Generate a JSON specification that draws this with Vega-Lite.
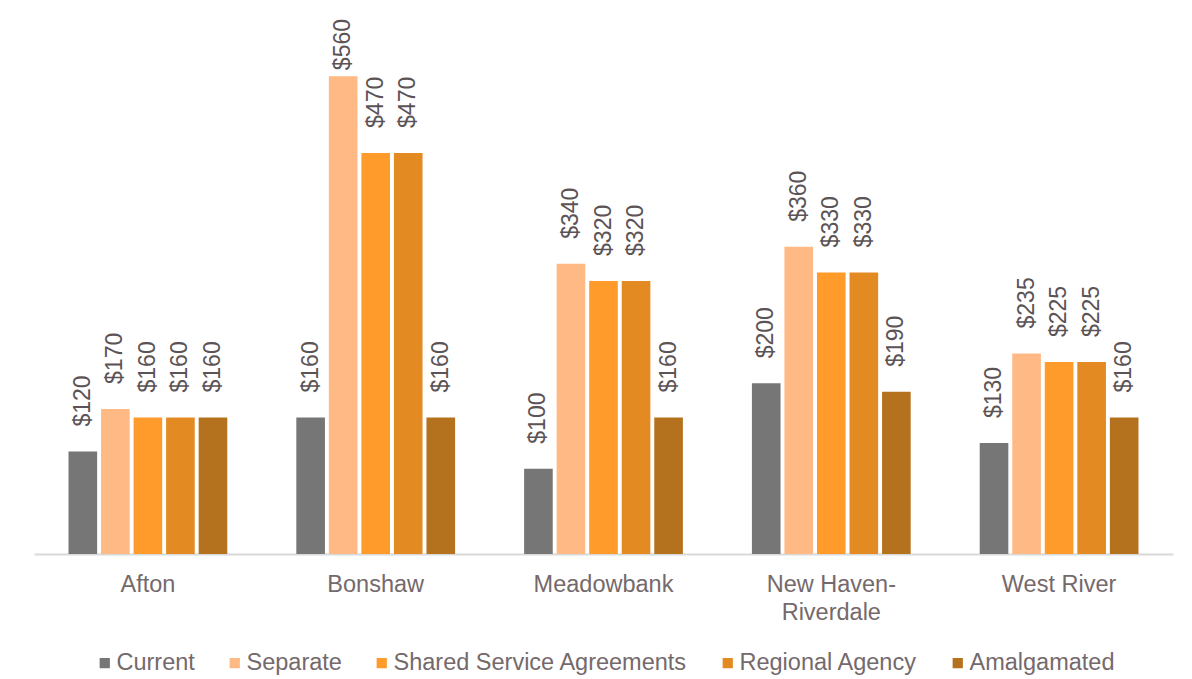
{
  "$schema": "https://vega.github.io/schema/vega-lite/v6.json",
  "autosize": "none",
  "width": 1139,
  "height": 512,
  "padding": {"left": 34, "top": 42, "right": 19, "bottom": 125},
  "background": "white",
  "config": {"view": {"stroke": null}, "font": "Liberation Sans"},
  "data": {"values": [
    {"area": "Afton", "option": "Current", "cost": 120},
    {"area": "Afton", "option": "Separate", "cost": 170},
    {"area": "Afton", "option": "Shared Service Agreements", "cost": 160},
    {"area": "Afton", "option": "Regional Agency", "cost": 160},
    {"area": "Afton", "option": "Amalgamated", "cost": 160},
    {"area": "Bonshaw", "option": "Current", "cost": 160},
    {"area": "Bonshaw", "option": "Separate", "cost": 560},
    {"area": "Bonshaw", "option": "Shared Service Agreements", "cost": 470},
    {"area": "Bonshaw", "option": "Regional Agency", "cost": 470},
    {"area": "Bonshaw", "option": "Amalgamated", "cost": 160},
    {"area": "Meadowbank", "option": "Current", "cost": 100},
    {"area": "Meadowbank", "option": "Separate", "cost": 340},
    {"area": "Meadowbank", "option": "Shared Service Agreements", "cost": 320},
    {"area": "Meadowbank", "option": "Regional Agency", "cost": 320},
    {"area": "Meadowbank", "option": "Amalgamated", "cost": 160},
    {"area": "New Haven-Riverdale", "option": "Current", "cost": 200},
    {"area": "New Haven-Riverdale", "option": "Separate", "cost": 360},
    {"area": "New Haven-Riverdale", "option": "Shared Service Agreements", "cost": 330},
    {"area": "New Haven-Riverdale", "option": "Regional Agency", "cost": 330},
    {"area": "New Haven-Riverdale", "option": "Amalgamated", "cost": 190},
    {"area": "West River", "option": "Current", "cost": 130},
    {"area": "West River", "option": "Separate", "cost": 235},
    {"area": "West River", "option": "Shared Service Agreements", "cost": 225},
    {"area": "West River", "option": "Regional Agency", "cost": 225},
    {"area": "West River", "option": "Amalgamated", "cost": 160}
  ]},
  "encoding": {
    "x": {
      "field": "area", "type": "nominal", "sort": null,
      "scale": {"paddingInner": 0.303, "paddingOuter": 0.1515},
      "axis": {
        "title": null, "ticks": false, "domainColor": "#d9d9d9", "domainWidth": 2,
        "labelAngle": 0, "labelFontSize": 23.5, "labelColor": "#74696b", "labelPadding": 18,
        "labelLineHeight": 28,
        "labelExpr": "datum.label == 'New Haven-Riverdale' ? ['New Haven-', 'Riverdale'] : datum.label"
      }
    },
    "xOffset": {
      "field": "option", "type": "nominal", "sort": null,
      "scale": {"paddingInner": 0.12, "paddingOuter": 0}
    },
    "y": {
      "field": "cost", "type": "quantitative",
      "scale": {"domain": [0, 600], "nice": false},
      "axis": null
    }
  },
  "layer": [
    {
      "mark": {"type": "bar"},
      "encoding": {
        "color": {
          "field": "option", "type": "nominal", "sort": null,
          "scale": {
            "domain": ["Current", "Separate", "Shared Service Agreements", "Regional Agency", "Amalgamated"],
            "range": ["#767676", "#ffb985", "#ff9b2b", "#e38a22", "#b5721e"]
          },
          "legend": {
            "title": null, "orient": "none", "direction": "horizontal",
            "legendX": 59, "legendY": 609, "padding": 0,
            "symbolType": "square", "symbolSize": 105, "symbolStrokeWidth": 0,
            "labelFontSize": 23.5, "labelColor": "#74696b", "labelOffset": 0,
            "labelLimit": 500, "columnPadding": 28
          }
        }
      }
    },
    {
      "transform": [{"filter": "datum.cost < 500"}],
      "mark": {"type": "text", "angle": 270, "align": "left", "baseline": "middle", "dx": 25, "fontSize": 23, "color": "#5b5355"},
      "encoding": {
        "text": {"field": "cost", "type": "quantitative", "format": "$,.0f"}
      }
    },
    {
      "transform": [{"filter": "datum.cost >= 500"}],
      "mark": {"type": "text", "angle": 270, "align": "left", "baseline": "middle", "dx": 6, "fontSize": 23, "color": "#5b5355"},
      "encoding": {
        "text": {"field": "cost", "type": "quantitative", "format": "$,.0f"}
      }
    }
  ]
}
